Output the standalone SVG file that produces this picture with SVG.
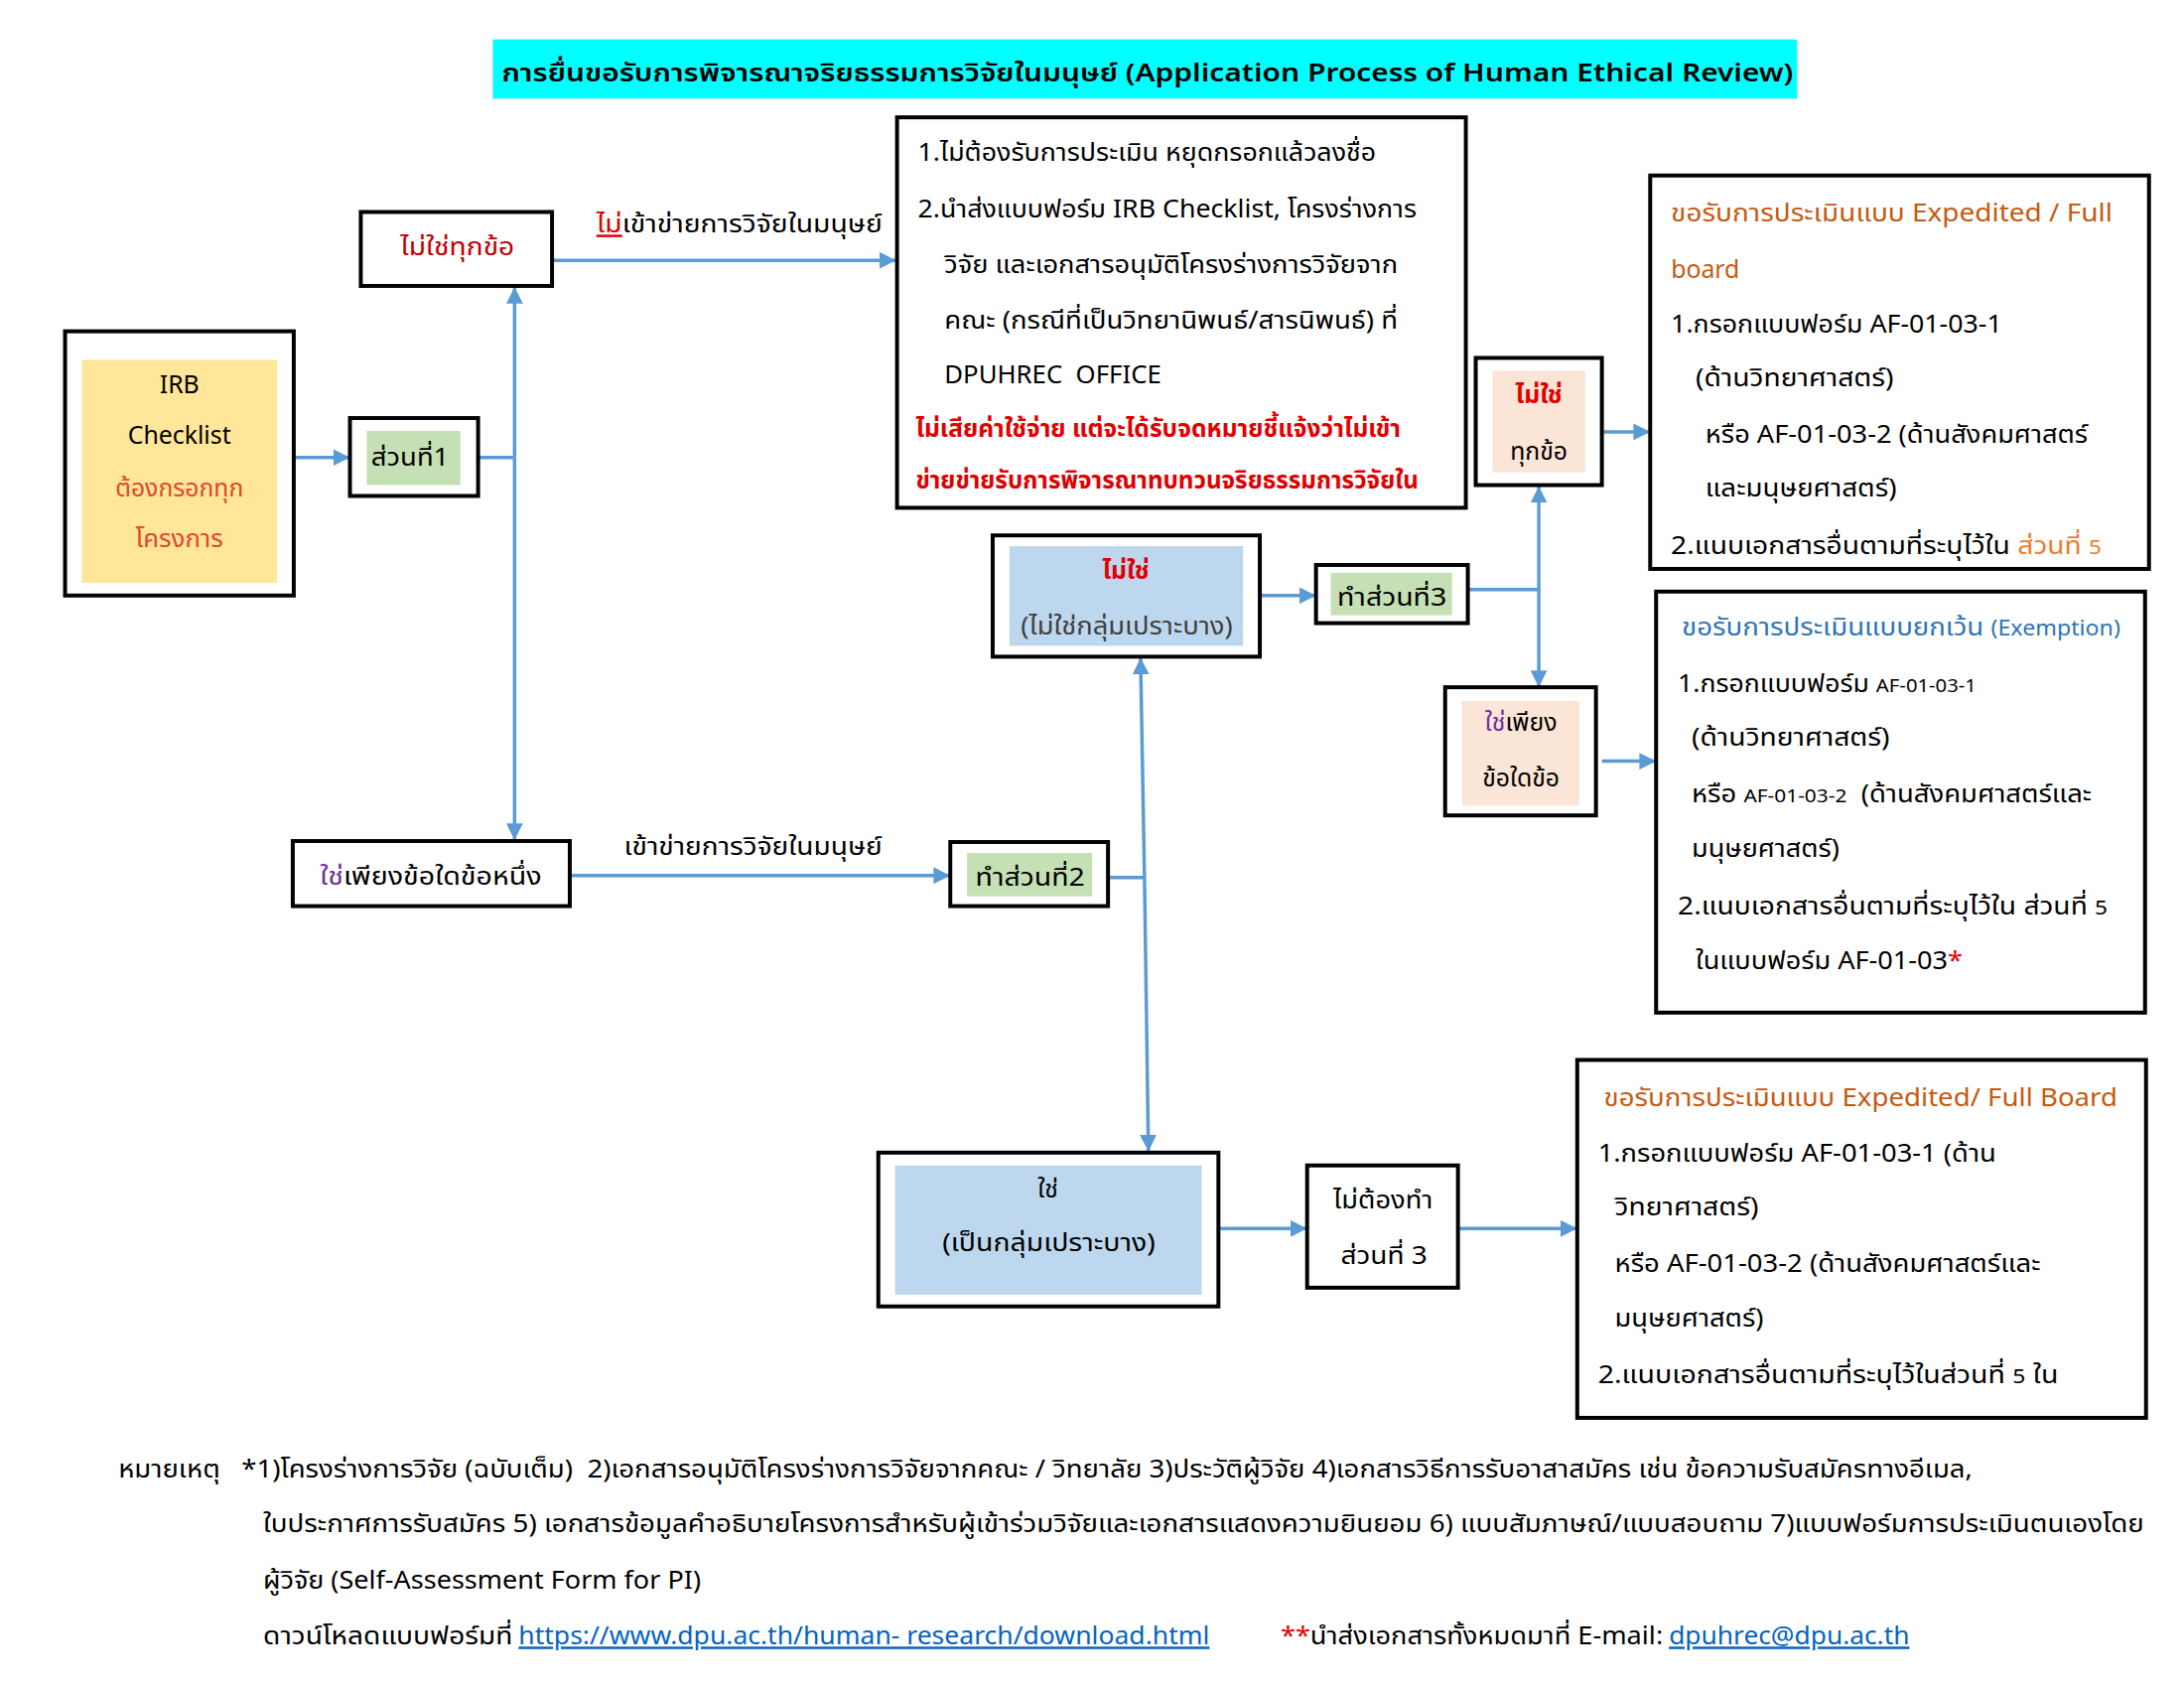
<svg xmlns="http://www.w3.org/2000/svg" width="2200" height="1700" viewBox="0 0 2200 1700">
<defs>
<style>
.t{font-family:"Noto Sans Thai","Leelawadee UI",Tahoma,"Liberation Sans",sans-serif;font-size:25px;fill:#000}
.c{text-anchor:middle}
.b{font-weight:bold}
.box{fill:#fff;stroke:#000;stroke-width:4}
.con{stroke:#5B9BD5;stroke-width:3.5;fill:none}
.red{fill:#E00000}
.dred{fill:#C00000}
.pur{fill:#7030A0}
.org{fill:#C55A11}
.lorg{fill:#ED7D31}
.blu{fill:#2E75B6}
.lnk{fill:#0563C1;text-decoration:underline}
</style>
<marker id="ah" viewBox="0 0 10 10" refX="10" refY="5" markerWidth="17" markerHeight="17" markerUnits="userSpaceOnUse" orient="auto">
<path d="M0,0 L10,5 L0,10 z" fill="#5B9BD5"/>
</marker>
</defs>
<rect width="2200" height="1700" fill="#fff"/>
<g transform="scale(0.993)">
<g id="title">
<rect x="500" y="40" width="1323" height="60" fill="#00FFFF"/>
<text class="t c" x="1164" y="83" font-size="35" font-weight="600" textLength="1310" lengthAdjust="spacingAndGlyphs">การยื่นขอรับการพิจารณาจริยธรรมการวิจัยในมนุษย์ (Application Process of Human Ethical Review)</text>
</g>

<g id="connectors">
<line class="con" x1="298" y1="464" x2="355" y2="464" marker-end="url(#ah)"/>
<line class="con" x1="485" y1="464" x2="522" y2="464"/>
<line class="con" x1="522" y1="464" x2="522" y2="291" marker-end="url(#ah)"/>
<line class="con" x1="522" y1="464" x2="522" y2="852" marker-end="url(#ah)"/>
<line class="con" x1="560" y1="264" x2="909" y2="264" marker-end="url(#ah)"/>
<line class="con" x1="578" y1="888" x2="964" y2="888" marker-end="url(#ah)"/>
<line class="con" x1="1124" y1="890" x2="1161" y2="890"/>
<line class="con" x1="1161" y1="890" x2="1157" y2="667" marker-end="url(#ah)"/>
<line class="con" x1="1161" y1="890" x2="1165" y2="1168" marker-end="url(#ah)"/>
<line class="con" x1="1278" y1="604" x2="1335" y2="604" marker-end="url(#ah)"/>
<line class="con" x1="1489" y1="598" x2="1561" y2="598"/>
<line class="con" x1="1561" y1="598" x2="1561" y2="493" marker-end="url(#ah)"/>
<line class="con" x1="1561" y1="598" x2="1561" y2="697" marker-end="url(#ah)"/>
<line class="con" x1="1625" y1="438" x2="1674" y2="438" marker-end="url(#ah)"/>
<line class="con" x1="1625" y1="772" x2="1680" y2="772" marker-end="url(#ah)"/>
<line class="con" x1="1236" y1="1246" x2="1326" y2="1246" marker-end="url(#ah)"/>
<line class="con" x1="1479" y1="1246" x2="1600" y2="1246" marker-end="url(#ah)"/>
</g>

<g id="irb">
<rect class="box" x="66" y="336" width="232" height="268"/>
<rect x="83" y="365" width="198" height="226" fill="#FFE699"/>
<text class="t c" x="182" y="399">IRB</text>
<text class="t c" x="182" y="450">Checklist</text>
<text class="t c" x="182" y="504" style="fill:#E0472A" textLength="130" lengthAdjust="spacingAndGlyphs">ต้องกรอกทุก</text>
<text class="t c" x="182" y="555" style="fill:#E0472A" textLength="89" lengthAdjust="spacingAndGlyphs">โครงการ</text>
</g>

<g id="part1">
<rect class="box" x="355" y="424" width="130" height="79"/>
<rect x="372" y="437" width="95" height="55" fill="#C5E0B4"/>
<text class="t c" x="416" y="472" textLength="79" lengthAdjust="spacingAndGlyphs">ส่วนที่1</text>
</g>

<g id="not-all">
<rect class="box" x="366" y="215" width="194" height="75"/>
<text class="t c dred" x="464" y="259" textLength="116" lengthAdjust="spacingAndGlyphs">ไม่ใช่ทุกข้อ</text>
</g>

<g id="label-not-human">
<text class="t" x="605" y="236" textLength="290" lengthAdjust="spacingAndGlyphs"><tspan class="red" text-decoration="underline">ไม่</tspan>เข้าข่ายการวิจัยในมนุษย์</text>
</g>

<g id="no-review">
<rect class="box" x="910" y="119" width="577" height="396"/>
<text class="t" x="931" y="163" textLength="465" lengthAdjust="spacingAndGlyphs">1.ไม่ต้องรับการประเมิน หยุดกรอกแล้วลงชื่อ</text>
<text class="t" x="931" y="221" textLength="506" lengthAdjust="spacingAndGlyphs">2.นำส่งแบบฟอร์ม IRB Checklist, โครงร่างการ</text>
<text class="t" x="958" y="277" textLength="460" lengthAdjust="spacingAndGlyphs">วิจัย และเอกสารอนุมัติโครงร่างการวิจัยจาก</text>
<text class="t" x="958" y="333" textLength="460" lengthAdjust="spacingAndGlyphs">คณะ (กรณีที่เป็นวิทยานิพนธ์/สารนิพนธ์) ที่</text>
<text class="t" x="958" y="389" textLength="220" lengthAdjust="spacingAndGlyphs">DPUHREC&#160; OFFICE</text>
<text class="t b red" x="929" y="443" textLength="492" lengthAdjust="spacingAndGlyphs">ไม่เสียค่าใช้จ่าย แต่จะได้รับจดหมายชี้แจ้งว่าไม่เข้า</text>
<text class="t b red" x="929" y="495" textLength="510" lengthAdjust="spacingAndGlyphs">ข่ายข่ายรับการพิจารณาทบทวนจริยธรรมการวิจัยใน</text>
</g>

<g id="some-yes">
<rect class="box" x="297" y="853" width="281" height="66"/>
<text class="t c" x="437" y="897" textLength="225" lengthAdjust="spacingAndGlyphs"><tspan class="pur">ใช่</tspan>เพียงข้อใดข้อหนึ่ง</text>
</g>

<g id="label-human">
<text class="t" x="633" y="867" textLength="262" lengthAdjust="spacingAndGlyphs">เข้าข่ายการวิจัยในมนุษย์</text>
</g>

<g id="part2">
<rect class="box" x="964" y="854" width="160" height="65"/>
<rect x="981" y="865" width="127" height="44" fill="#C5E0B4"/>
<text class="t c" x="1045" y="898" textLength="111" lengthAdjust="spacingAndGlyphs">ทำส่วนที่2</text>
</g>

<g id="not-vulnerable">
<rect class="box" x="1007" y="543" width="271" height="123"/>
<rect x="1024" y="554" width="237" height="101" fill="#BDD7EE"/>
<text class="t c b red" x="1142" y="587">ไม่ใช่</text>
<text class="t c" x="1143" y="644" style="fill:#404040" textLength="215" lengthAdjust="spacingAndGlyphs">(ไม่ใช่กลุ่มเปราะบาง)</text>
</g>

<g id="part3">
<rect class="box" x="1335" y="573" width="154" height="59"/>
<rect x="1350" y="581" width="123" height="43" fill="#C5E0B4"/>
<text class="t c" x="1412" y="614" textLength="111" lengthAdjust="spacingAndGlyphs">ทำส่วนที่3</text>
</g>

<g id="not-all-2">
<rect class="box" x="1497" y="363" width="128" height="129"/>
<rect x="1514" y="376" width="94" height="103" fill="#FBE5D6"/>
<text class="t c b red" x="1561" y="409">ไม่ใช่</text>
<text class="t c" x="1561" y="466">ทุกข้อ</text>
</g>

<g id="some-yes-2">
<rect class="box" x="1466" y="697" width="153" height="130"/>
<rect x="1483" y="711" width="119" height="106" fill="#FBE5D6"/>
<text class="t c" x="1543" y="741"><tspan class="pur">ใช่</tspan>เพียง</text>
<text class="t c" x="1543" y="798">ข้อใดข้อ</text>
</g>

<g id="expedited-1">
<rect class="box" x="1674" y="178" width="506" height="399"/>
<text class="t org" x="1695" y="225" textLength="448" lengthAdjust="spacingAndGlyphs">ขอรับการประเมินแบบ Expedited / Full</text>
<text class="t org" x="1695" y="282">board</text>
<text class="t" x="1695" y="337" textLength="336" lengthAdjust="spacingAndGlyphs">1.กรอกแบบฟอร์ม AF-01-03-1</text>
<text class="t" x="1720" y="392" textLength="201" lengthAdjust="spacingAndGlyphs">(ด้านวิทยาศาสตร์)</text>
<text class="t" x="1730" y="449" textLength="388" lengthAdjust="spacingAndGlyphs">หรือ AF-01-03-2 (ด้านสังคมศาสตร์</text>
<text class="t" x="1730" y="504" textLength="194" lengthAdjust="spacingAndGlyphs">และมนุษยศาสตร์)</text>
<text class="t" x="1695" y="562" textLength="437" lengthAdjust="spacingAndGlyphs">2.แนบเอกสารอื่นตามที่ระบุไว้ใน <tspan class="lorg">ส่วนที่ <tspan font-size="20">5</tspan></tspan></text>
</g>

<g id="exemption">
<rect class="box" x="1680" y="600" width="496" height="427"/>
<text class="t blu" x="1706" y="645" textLength="445" lengthAdjust="spacingAndGlyphs">ขอรับการประเมินแบบยกเว้น <tspan font-size="21">(Exemption)</tspan></text>
<text class="t" x="1702" y="702" textLength="303" lengthAdjust="spacingAndGlyphs">1.กรอกแบบฟอร์ม <tspan font-size="19">AF-01-03-1</tspan></text>
<text class="t" x="1716" y="756" textLength="201" lengthAdjust="spacingAndGlyphs">(ด้านวิทยาศาสตร์)</text>
<text class="t" x="1716" y="814" textLength="406" lengthAdjust="spacingAndGlyphs">หรือ <tspan font-size="19">AF-01-03-2</tspan>&#160; (ด้านสังคมศาสตร์และ</text>
<text class="t" x="1716" y="869" textLength="150" lengthAdjust="spacingAndGlyphs">มนุษยศาสตร์)</text>
<text class="t" x="1702" y="927" textLength="436" lengthAdjust="spacingAndGlyphs">2.แนบเอกสารอื่นตามที่ระบุไว้ใน ส่วนที่ <tspan font-size="20">5</tspan></text>
<text class="t" x="1720" y="983" textLength="271" lengthAdjust="spacingAndGlyphs">ในแบบฟอร์ม AF-01-03<tspan class="red">*</tspan></text>
</g>

<g id="vulnerable">
<rect class="box" x="891" y="1169" width="345" height="156"/>
<rect x="908" y="1182" width="311" height="131" fill="#BDD7EE"/>
<text class="t c" x="1063" y="1215">ใช่</text>
<text class="t c" x="1064" y="1269" textLength="216" lengthAdjust="spacingAndGlyphs">(เป็นกลุ่มเปราะบาง)</text>
</g>

<g id="no-part3">
<rect class="box" x="1326" y="1182" width="153" height="124"/>
<text class="t c" x="1403" y="1226" textLength="101" lengthAdjust="spacingAndGlyphs">ไม่ต้องทำ</text>
<text class="t c" x="1404" y="1282" textLength="88" lengthAdjust="spacingAndGlyphs">ส่วนที่ 3</text>
</g>

<g id="expedited-2">
<rect class="box" x="1600" y="1075" width="577" height="363"/>
<text class="t org" x="1627" y="1122" textLength="521" lengthAdjust="spacingAndGlyphs">ขอรับการประเมินแบบ Expedited/ Full Board</text>
<text class="t" x="1621" y="1178" textLength="404" lengthAdjust="spacingAndGlyphs">1.กรอกแบบฟอร์ม AF-01-03-1 (ด้าน</text>
<text class="t" x="1638" y="1233" textLength="146" lengthAdjust="spacingAndGlyphs">วิทยาศาสตร์)</text>
<text class="t" x="1638" y="1290" textLength="432" lengthAdjust="spacingAndGlyphs">หรือ AF-01-03-2 (ด้านสังคมศาสตร์และ</text>
<text class="t" x="1638" y="1345" textLength="151" lengthAdjust="spacingAndGlyphs">มนุษยศาสตร์)</text>
<text class="t" x="1621" y="1403" textLength="467" lengthAdjust="spacingAndGlyphs">2.แนบเอกสารอื่นตามที่ระบุไว้ในส่วนที่ <tspan font-size="20">5</tspan> ใน</text>
</g>

<g id="notes">
<text class="t" x="120" y="1498" font-size="24" textLength="1881" lengthAdjust="spacingAndGlyphs">หมายเหตุ&#160;&#160; *1)โครงร่างการวิจัย (ฉบับเต็ม)&#160; 2)เอกสารอนุมัติโครงร่างการวิจัยจากคณะ / วิทยาลัย 3)ประวัติผู้วิจัย 4)เอกสารวิธีการรับอาสาสมัคร เช่น ข้อความรับสมัครทางอีเมล,</text>
<text class="t" x="267" y="1554" font-size="24" textLength="1908" lengthAdjust="spacingAndGlyphs">ใบประกาศการรับสมัคร 5) เอกสารข้อมูลคำอธิบายโครงการสำหรับผู้เข้าร่วมวิจัยและเอกสารแสดงความยินยอม 6) แบบสัมภาษณ์/แบบสอบถาม 7)แบบฟอร์มการประเมินตนเองโดย</text>
<text class="t" x="267" y="1611" font-size="24" textLength="444" lengthAdjust="spacingAndGlyphs">ผู้วิจัย (Self-Assessment Form for PI)</text>
<text class="t" x="267" y="1668" font-size="24" textLength="253" lengthAdjust="spacingAndGlyphs">ดาวน์โหลดแบบฟอร์มที่</text>
<text class="t lnk" x="526" y="1668" font-size="24" textLength="701" lengthAdjust="spacingAndGlyphs">https://www.dpu.ac.th/human- research/download.html</text>
<text class="t" x="1299" y="1668" font-size="24" textLength="388" lengthAdjust="spacingAndGlyphs"><tspan class="red">**</tspan>นำส่งเอกสารทั้งหมดมาที่ E-mail:</text>
<text class="t lnk" x="1693" y="1668" font-size="24" textLength="244" lengthAdjust="spacingAndGlyphs">dpuhrec@dpu.ac.th</text>
</g>
</g>
</svg>
